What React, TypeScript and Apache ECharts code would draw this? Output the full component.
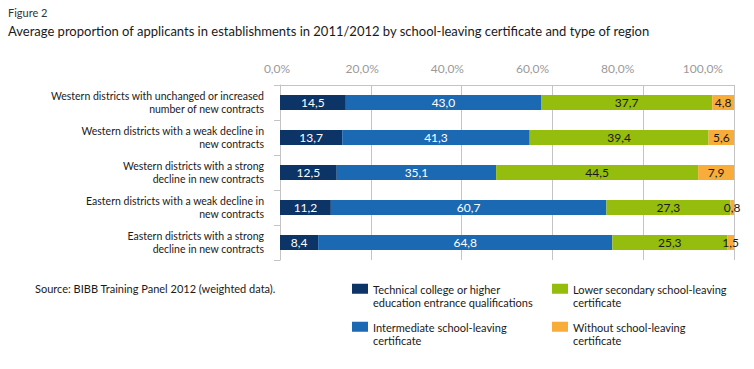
import React, { useEffect, useRef } from "react";
import * as echarts from "echarts";

const categories = [
  "Western districts with unchanged or increased\nnumber of new contracts",
  "Western districts with a weak decline in\nnew contracts",
  "Western districts with a strong\ndecline in new contracts",
  "Eastern districts with a weak decline in\nnew contracts",
  "Eastern districts with a strong\ndecline in new contracts",
];

const seriesNames = [
  "Technical college or higher education entrance qualifications",
  "Intermediate school-leaving certificate",
  "Lower secondary school-leaving certificate",
  "Without school-leaving certificate",
];
const legendLabels = [
  "Technical college or higher\neducation entrance qualifications",
  "Intermediate school-leaving\ncertificate",
  "Lower secondary school-leaving\ncertificate",
  "Without school-leaving\ncertificate",
];

const technical = [14.5, 13.7, 12.5, 11.2, 8.4];
const intermediate = [43.0, 41.3, 35.1, 60.7, 64.8];
const lowerSecondary = [37.7, 39.4, 44.5, 27.3, 25.3];
const without = [4.8, 5.6, 7.9, 0.8, 1.5];

const tickValues = [0, 20, 40, 60, 80, 100];

const colors = ["#0c3467", "#1b69b3", "#94bd0d", "#f8ad3a"];
const labelColors = ["#ffffff", "#ffffff", "#1a1a1a", "#1a1a1a"];

const FONT = "Lato, 'Liberation Sans', sans-serif";

export default function App() {
  const ref = useRef<HTMLDivElement>(null);
  useEffect(() => {
    if (!ref.current) return;
    const chart = echarts.init(ref.current, null, { renderer: "svg" });
    const allData = [technical, intermediate, lowerSecondary, without];
    const fmt = (v: number) => v.toFixed(1).replace(".", ",");
    const legendPos = [
      { left: 352, top: 283 },
      { left: 352, top: 321 },
      { left: 552, top: 283 },
      { left: 552, top: 321 },
    ];
    chart.setOption({
      animation: false,
      backgroundColor: "#ffffff",
      textStyle: { fontFamily: FONT },
      title: [
        {
          text: "Figure 2",
          left: 3,
          top: 2,
          textStyle: { fontSize: 11, fontWeight: "normal", color: "#333", fontFamily: FONT },
        },
        {
          text:
            "Average proportion of applicants in establishments in 2011/2012 by school-leaving certificate and type of region",
          left: 3,
          top: 19,
          textStyle: { fontSize: 13, fontWeight: "normal", color: "#1a1a1a", fontFamily: FONT },
        },
        {
          text: "Source: BIBB Training Panel 2012 (weighted data).",
          left: 30,
          top: 278,
          textStyle: { fontSize: 11, fontWeight: "normal", color: "#1a1a1a", fontFamily: FONT },
        },
      ],
      legend: seriesNames.map((n, i) => ({
        data: [n],
        left: legendPos[i].left,
        top: legendPos[i].top,
        padding: 0,
        itemWidth: 16,
        itemHeight: 26,
        itemGap: 0,
        icon: "path://M0,1.5H16V11.5H0Z M0,26H0.01V26.01H0Z",
        selectedMode: false,
        formatter: () => legendLabels[i],
        textStyle: {
          fontSize: 11,
          color: "#1a1a1a",
          lineHeight: 13,
          fontFamily: FONT,
        },
      })),
      grid: [
        { left: 280, top: 85, width: 454, height: 175 },
        { left: 277, top: 85, width: 454, height: 175 },
      ],
      xAxis: [
        {
          type: "value",
          gridIndex: 0,
          position: "top",
          min: 0,
          max: 100,
          interval: 20,
          axisLabel: { show: false },
          axisTick: { show: false },
          axisLine: { show: true, lineStyle: { color: "#c4c4c4" } },
          splitLine: { show: true, lineStyle: { color: "#c4c4c4", width: 1 } },
        },
        {
          type: "value",
          gridIndex: 1,
          position: "top",
          min: 0,
          max: 106.6,
          interval: 20,
          axisLabel: {
            show: true,
            color: "#9a9a9a",
            fontSize: 12,
            margin: 11,
            fontFamily: FONT,
            formatter: (v: number) => (tickValues.includes(v) ? fmt(v) + "%" : ""),
            showMaxLabel: false,
          },
          axisTick: { show: false },
          axisLine: { show: false },
          splitLine: { show: false },
        },
      ],
      yAxis: [
        {
          type: "category",
          gridIndex: 0,
          inverse: true,
          data: categories,
          axisLine: { show: true, lineStyle: { color: "#c4c4c4" } },
          axisTick: { show: true, length: 6, lineStyle: { color: "#c4c4c4" } },
          axisLabel: {
            color: "#1a1a1a",
            fontSize: 10.5,
            lineHeight: 13,
            margin: 16,
            align: "right",
            fontFamily: FONT,
          },
        },
        {
          type: "category",
          gridIndex: 1,
          data: categories,
          show: false,
        },
      ],
      series: seriesNames.map((n, i) => ({
        name: n,
        type: "bar",
        stack: "total",
        xAxisIndex: 0,
        yAxisIndex: 0,
        barWidth: 15,
        data: allData[i],
        itemStyle: { color: colors[i] },
        label: {
          show: true,
          position: "inside",
          color: labelColors[i],
          fontSize: 12,
          fontFamily: FONT,
          formatter: (p: any) => fmt(p.value),
        },
      })),
    });
    return () => chart.dispose();
  }, []);
  return (
    <div
      ref={ref}
      style={{ position: "fixed", left: 0, top: 0, width: 754, height: 369 }}
    />
  );
}
